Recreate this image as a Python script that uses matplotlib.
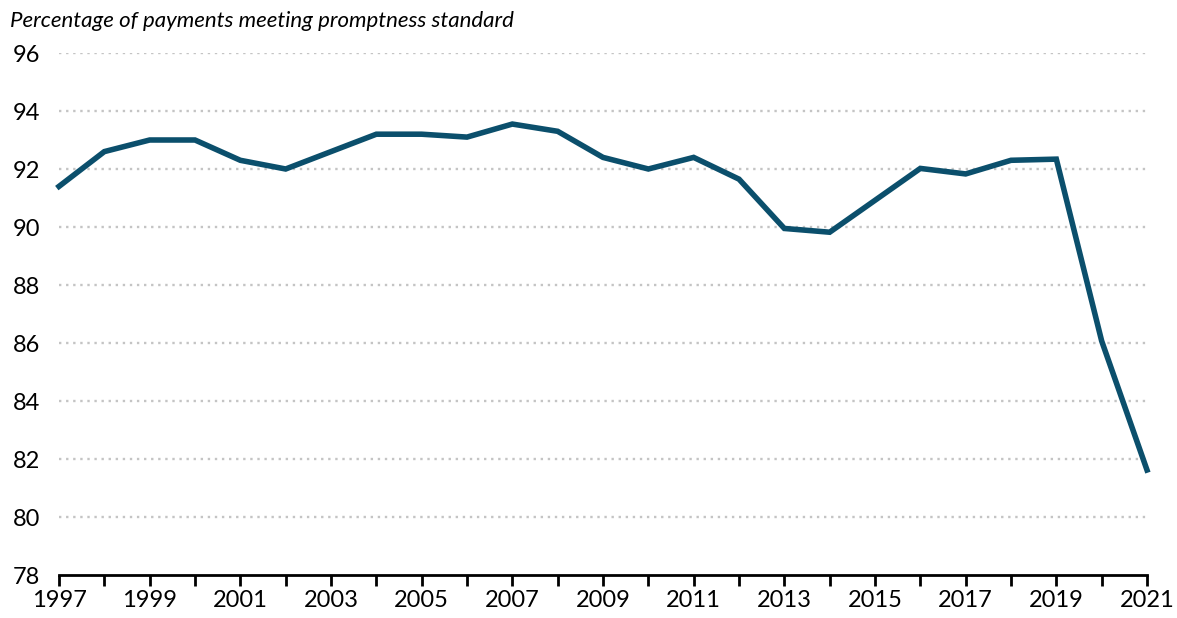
import numpy as np
import matplotlib.pyplot as plt

plt.rcParams['font.family'] = ['Lato', 'DejaVu Sans']

years = list(range(1997, 2022))
pct = [91.4, 92.6, 93.0, 93.0, 92.3, 92.0, 92.6, 93.2, 93.2, 93.1,
       93.55, 93.3, 92.4, 92.0, 92.4, 91.65, 89.95, 89.82, 90.92, 92.02,
       91.83, 92.3, 92.34, 86.07, 81.62]
yticks = list(range(78, 97, 2))

fig = plt.figure(figsize=(11.77, 6.18), dpi=100)
ax = fig.add_axes([59/1177, 43/618, (1147-59)/1177, (575-53)/618])

ax.plot(years, pct, color='#0b4f6c', lw=4, solid_joinstyle='miter', zorder=3, clip_on=False)

ax.set_xlim(1997, 2021)
ax.set_ylim(78, 96)
ax.set_yticks(yticks)
ax.set_xticks(years)
ax.set_xticklabels([str(y) if (y - 1997) % 2 == 0 else '' for y in years])

for y in yticks[1:]:
    ax.axhline(y, color='#c4c4c4', lw=1.7, ls=(0, (1, 2)), zorder=1)

for s in ['top', 'right', 'left']:
    ax.spines[s].set_visible(False)
ax.spines['bottom'].set_linewidth(2)
ax.spines['bottom'].set_color('black')

ax.tick_params(axis='x', length=8, width=2, color='black', labelsize=17, pad=3)
ax.tick_params(axis='y', length=0, labelsize=17, pad=33)
for lab in ax.get_yticklabels():
    lab.set_horizontalalignment('left')

fig.text(10/1177, 1 - 21/618, 'Percentage of payments meeting promptness standard',
         fontsize=16, style='italic', va='center', ha='left')

fig.savefig('out.png', dpi=100)
